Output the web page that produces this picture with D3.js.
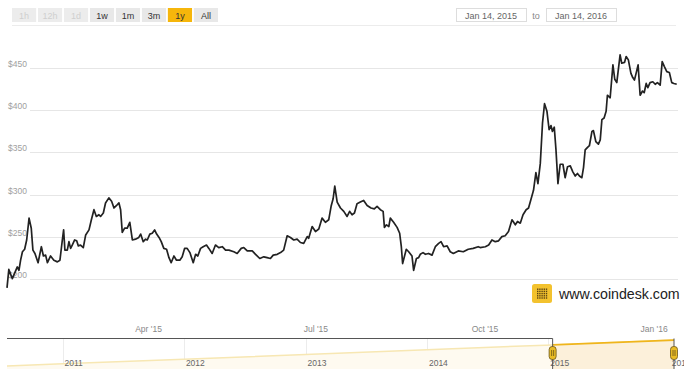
<!DOCTYPE html>
<html><head><meta charset="utf-8">
<script src="https://cdn.jsdelivr.net/npm/d3@7"></script>
<style>body{margin:0;background:#fff}svg{display:block;font-family:"Liberation Sans",Arial,sans-serif}</style>
</head><body><svg id="c" width="684" height="380"></svg>
<script>
// ---------- data ----------
const startDate = "2015-01-14";
const endDate = "2016-01-14";
const dayOffsets = [0,1,2.9,5.6,6.5,7.4,8.4,9.6,10.7,12,13.2,14.1,15.2,16.9,18.7,19.8,21,22,23.7,25.5,
27.4,28.8,30.1,30.8,31.5,32.8,33.7,34.6,35.5,36.8,37.9,38.8,40,41.5,42.8,44.6,45.9,47.3,48.6,50,
50.9,52.4,53.6,55.4,56.9,58.2,59.6,60.9,61.8,62.7,64,65.4,66.8,68.2,69.9,71.7,72.7,74.1,75.4,76.3,
77.7,79,80.3,81.4,82.7,83.9,85.3,86.8,88.1,89.3,90.8,92.2,94,95.3,96.6,98,99.5,101.3,102.6,103.8,105.3,
106.7,108.5,109.8,111.6,113.4,115.2,117.1,118.9,120.7,123.4,125.2,127.4,128.8,130.7,133.4,135.2,137.5,139.7,141.5,143.3,
144.8,147,148.8,150.5,152.4,154.2,156,157.8,159.6,161.4,163.3,164.1,166,167.8,169.6,171.4,173.2,175,176.3,177.4,
178.3,179.6,181.4,183.2,185,186.4,187.7,189,190.4,192.2,194,195.9,198,199.8,201.3,203.1,204.6,205.3,206.4,207.7,
208.5,210.3,212.2,213.6,214.5,215.2,217.2,218.5,220.3,221.2,222.7,223.9,224.8,226.3,227.6,229.3,231.2,233,234.8,236.1,
237.5,239.4,241.1,242.8,245.5,248.2,250.9,253.6,256.3,
257.4,260.2,262,263.8,265.6,267.4,269.2,271,272.8,274.7,276.5,277.7,279.2,280.7,282.4,283.7,285,286.4,287.7,288.8,
290.1,291.3,292.4,293.7,294.9,295.9,296.7,297.7,298.6,299.7,300.9,302.4,303.6,304.9,306.4,307.8,309.1,310.3,311.4,312.7,
313.6,314.5,315.8,316.8,318.2,319,320.3,321.7,322.7,323.6,324.8,325.9,326.6,328.1,329.6,330.6,331.7,333.5,334.4,335.9,
336.8,338,339.4,340.4,341.3,342.2,343.3,344.4,345.7,346.6,347.7,348.6,349.8,351.3,352.6,353.8,355.3,356.4,357.6,358.9,
360.3,361.6,362.8,364.3];
const prices = [189,211,200,214,210,222,232,235,246,272,260,234,230,219,238,227,228,219,227,222,
220,222,246,258,234,234,244,236,240,246,245,239,240,237,252,258,270,282,274,276,
274,278,290,296,292,284,287,290,282,255,260,260,267,246,247,249,253,244,247,246,
253,254,258,253,249,244,236,235,225,219,227,222,222,226,236,236,231,219,229,227,236,
238,240,236,230,240,237,238,234,234,232,230,236,237,233,233,229,224,226,225,224,
228,229,231,234,251,249,246,247,243,242,250,248,262,256,259,272,267,270,286,295,
310,291,284,280,274,280,276,278,289,291,293,287,284,283,286,282,280,261,264,262,
272,267,261,254,238,218,235,232,227,210,224,225,229,231,229,230,228,238,242,244,
238,239,232,230,233,232,235,236,238,
237,238,240,246,244,245,250,251,256,270,264,268,266,276,282,284,294,305,326,313,
337,385,408,399,377,382,375,380,354,313,336,336,320,333,334,327,322,325,322,320,
332,353,356,358,375,376,363,360,365,389,391,399,418,415,454,437,433,466,456,457,
464,460,444,439,436,444,454,418,423,421,432,427,433,434,431,433,430,458,452,446,
445,433,432,431];
const yTicks = [200,250,300,350,400,450];
const xTickDates = ["2015-04-01","2015-07-01","2015-10-01","2016-01-01"];
const rangeButtons = ["1h","12h","1d","1w","1m","3m","1y","All"];
const disabledButtons = ["1h","12h","1d"];
const activeButton = "1y";
const dateInputs = ["Jan 14, 2015","Jan 14, 2016"];
const navDates = ["2010-07-18","2011-01-01","2012-01-01","2013-01-01","2014-01-01","2015-01-14","2016-01-14"];
const navValues = [7,14,29,45,61,77,93];
const navYears = ["2011-01-01","2012-01-01","2013-01-01","2014-01-01","2015-01-01","2016-01-01"];
const watermark = "www.coindesk.com";

// ---------- setup ----------
const parse = d3.utcParse("%Y-%m-%d");
const t0 = parse(startDate), t1 = parse(endDate);
const series = dayOffsets.map((d,i)=>({date:new Date(+t0 + d*864e5), v:prices[i]}));
const svg = d3.select("#c");

// ---------- range selector ----------
const bx = d3.scaleBand().domain(rangeButtons).range([12,218]).paddingInner(0.07);
const btn = svg.append("g").selectAll("g").data(rangeButtons).join("g")
  .attr("transform", d=>`translate(${bx(d)},8)`);
btn.append("rect").attr("width", bx.bandwidth()).attr("height", 14)
  .attr("fill", d=> d===activeButton ? "#f6b60b" : (disabledButtons.includes(d) ? "#ececec" : "#e8e8e8"));
btn.append("text").attr("x", bx.bandwidth()/2).attr("y", 10.5).attr("text-anchor","middle")
  .attr("font-size", 9).attr("fill", d=> disabledButtons.includes(d) ? "#cfcfcf" : "#333").text(d=>d);

// date inputs
const dIn = svg.append("g");
[[456,dateInputs[0]],[546,dateInputs[1]]].forEach(([x,t])=>{
  dIn.append("rect").attr("x",x+0.5).attr("y",8.5).attr("width",70).attr("height",13)
    .attr("fill","#fff").attr("stroke","#ddd");
  dIn.append("text").attr("x",x+35).attr("y",18.5).attr("text-anchor","middle")
    .attr("font-size",9).attr("fill","#666").text(t);
});
dIn.append("text").attr("x",536).attr("y",18.5).attr("text-anchor","middle")
  .attr("font-size",9).attr("fill","#888").text("to");
svg.append("line").attr("x1",12).attr("x2",676).attr("y1",25.5).attr("y2",25.5)
  .attr("stroke","#ececec");

// ---------- main chart ----------
const x = d3.scaleUtc().domain([t0,t1]).range([7,678]);
const y = d3.scaleLinear().domain([200,450]).range([278.7,68.3]);

const yAxis = svg.append("g");
yAxis.selectAll("line").data(yTicks).join("line")
  .attr("x1",30).attr("x2",678).attr("y1",d=>Math.round(y(d))+0.5).attr("y2",d=>Math.round(y(d))+0.5)
  .attr("stroke","#e6e6e6");
yAxis.selectAll("text").data(yTicks).join("text")
  .attr("x",8).attr("y",d=>y(d)-1).attr("font-size",8.5).attr("fill","#a0a0a0")
  .text(d=>"$"+d);

// watermark
const wm = svg.append("g").attr("transform","translate(532,284)");
wm.append("rect").attr("width",20).attr("height",19).attr("rx",2.5).attr("fill","#f3c22e");
const grid = d3.range(5).flatMap(r=>d3.range(5).map(c=>[c,r]));
wm.selectAll("rect.dot").data(grid).join("rect").attr("class","dot")
  .attr("x",d=>5+d[0]*2.2).attr("y",d=>4.5+d[1]*2.2).attr("width",1.4).attr("height",1.4)
  .attr("fill","#5b4412");
svg.append("text").attr("x",559).attr("y",299).attr("font-size",14.2).attr("fill","#222")
  .text(watermark);

// price line
svg.append("path").datum(series)
  .attr("d", d3.line().x(d=>x(d.date)).y(d=>y(d.v)))
  .attr("fill","none").attr("stroke","#222").attr("stroke-width",1.7).attr("stroke-linejoin","round");

// x axis labels
const fmt = d3.utcFormat("%b '%y");
svg.append("g").selectAll("text").data(xTickDates.map(parse)).join("text")
  .attr("x",d=>x(d)).attr("y",332).attr("text-anchor","middle")
  .attr("font-size",8.5).attr("fill","#888").text(d=>fmt(d));

// ---------- navigator ----------
const nx = d3.scaleUtc().domain([parse(navDates[0]), parse(navDates[navDates.length-1])]).range([7,674]);
const ny = d3.scaleLinear().domain([0,100]).range([368,338]);
const navData = navDates.map((d,i)=>({date:parse(d), v:navValues[i]}));
const selL = nx(t0), selR = nx(t1);
const navBottom = 369;

svg.append("defs").append("clipPath").attr("id","sel")
  .append("rect").attr("x",selL).attr("y",330).attr("width",selR-selL).attr("height",50);

// year grid
const yrs = navYears.map(parse);
svg.append("g").selectAll("line").data(yrs).join("line")
  .attr("x1",d=>Math.round(nx(d))+0.5).attr("x2",d=>Math.round(nx(d))+0.5)
  .attr("y1",339).attr("y2",navBottom).attr("stroke","#ececec");

const area = d3.area().x(d=>nx(d.date)).y0(navBottom).y1(d=>ny(d.v));
const nline = d3.line().x(d=>nx(d.date)).y(d=>ny(d.v));
svg.append("path").datum(navData).attr("d",area).attr("fill","#fefaf0");
svg.append("path").datum(navData).attr("d",nline).attr("fill","none").attr("stroke","#f7e7b3").attr("stroke-width",1.5);
const selG = svg.append("g").attr("clip-path","url(#sel)");
selG.append("path").datum(navData).attr("d",area).attr("fill","#fcf0da");
selG.append("path").datum(navData).attr("d",nline).attr("fill","none").attr("stroke","#efb51c").attr("stroke-width",1.6);

svg.append("g").selectAll("text").data(yrs).join("text")
  .attr("x",d=>nx(d)+2).attr("y",366).attr("font-size",8.5).attr("fill","#666")
  .text(d=>d3.utcFormat("%Y")(d));

// outline
svg.append("path")
  .attr("d",`M7,338.5H${selL}V${navBottom}M${selR},338.5V${navBottom}`)
  .attr("fill","none").attr("stroke","#555").attr("stroke-width",1);

// handles
const hd = svg.append("g").selectAll("g").data([selL,selR]).join("g")
  .attr("transform",d=>`translate(${d},353)`);
hd.append("rect").attr("x",-3.5).attr("y",-6.5).attr("width",7).attr("height",13).attr("rx",3)
  .attr("fill","#e9bb25").attr("stroke","#6a5418").attr("stroke-width",0.8);
hd.selectAll("line").data([-1,1]).join("line")
  .attr("x1",d=>d).attr("x2",d=>d).attr("y1",-3).attr("y2",3).attr("stroke","#6a5418").attr("stroke-width",0.8);
</script></body></html>
